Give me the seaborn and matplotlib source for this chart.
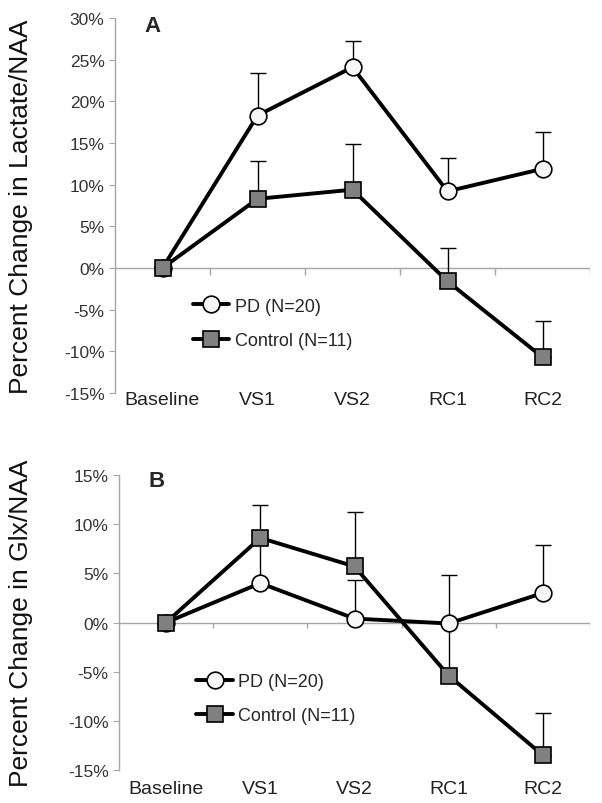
import matplotlib
matplotlib.use("Agg")
import matplotlib.pyplot as plt
import seaborn as sns
import numpy as np
from matplotlib.ticker import PercentFormatter

# time points
stages = ["Baseline", "VS1", "VS2", "RC1", "RC2"]

# panel A: lactate/NAA (% change), upper error only
lac_pd = [0, 18.3, 24.1, 9.2, 11.9]
lac_pd_err = [0, 5.1, 3.2, 4.0, 4.4]
lac_ctl = [0, 8.3, 9.4, -1.6, -10.7]
lac_ctl_err = [0, 4.6, 5.5, 4.0, 4.3]

# panel B: Glx/NAA (% change)
glx_pd = [0, 4.0, 0.4, -0.1, 3.0]
glx_pd_err = [0, 4.0, 3.9, 4.9, 4.9]
glx_ctl = [0, 8.6, 5.7, -5.4, -13.5]
glx_ctl_err = [0, 3.3, 5.5, 5.0, 4.3]

pd_label = "PD (N=20)"
ctl_label = "Control (N=11)"

sns.set_style("white")
plt.rcParams["font.family"] = ["Liberation Sans", "DejaVu Sans"]
plt.rcParams["axes.unicode_minus"] = False

GRAY = "#a6a6a6"

fig = plt.figure(figsize=(6.02, 8.04), dpi=100)
axA = fig.add_axes([115 / 602, 1 - 394 / 804, 475 / 602, 375 / 804])
axB = fig.add_axes([119 / 602, 1 - 771 / 804, 471 / 602, 295 / 804])


def panel(ax, pd_vals, pd_err, ctl_vals, ctl_err, ylim, yticks, ylabel, tick_len, xpad):
    zeros = np.zeros(len(stages))
    # one-sided error bars (drawn under the markers)
    ax.errorbar(stages, pd_vals, yerr=[zeros, pd_err], fmt="none", ecolor="black",
                elinewidth=1.0, capsize=6, capthick=1.0, zorder=2)
    ax.errorbar(stages, ctl_vals, yerr=[zeros, ctl_err], fmt="none", ecolor="black",
                elinewidth=1.0, capsize=6, capthick=1.0, zorder=2)
    sns.lineplot(x=stages, y=pd_vals, ax=ax, color="black", linewidth=2.8,
                 marker="o", markersize=12, markerfacecolor="#f7f7f7",
                 markeredgecolor="black", markeredgewidth=1.2, label=pd_label, zorder=4)
    sns.lineplot(x=stages, y=ctl_vals, ax=ax, color="black", linewidth=2.8,
                 marker="s", markersize=11.5, markerfacecolor="#808080",
                 markeredgecolor="black", markeredgewidth=1.2, label=ctl_label, zorder=5)

    ax.set_xlim(-0.5, len(stages) - 0.5)
    ax.set_ylim(*ylim)
    ax.set_yticks(yticks)
    ax.yaxis.set_major_formatter(PercentFormatter(decimals=0))

    # excel-like category axis on the zero line
    ax.axhline(0, color=GRAY, linewidth=1.0, zorder=1)
    ax.vlines(np.arange(len(stages)) + 0.5, -tick_len, 0, color=GRAY, linewidth=1.0, zorder=1)

    for s in ["top", "right", "bottom"]:
        ax.spines[s].set_visible(False)
    ax.spines["left"].set_color(GRAY)
    ax.spines["left"].set_linewidth(1.0)
    ax.tick_params(axis="y", length=4, color=GRAY, labelsize=12.5, labelcolor="#333333", left=True)
    ax.tick_params(axis="x", length=0, labelsize=14, labelcolor="#222222", pad=xpad)
    ax.set_xlabel("")
    ax.set_ylabel(ylabel, fontsize=19, color="#111111")
    ax.legend(loc="center left", frameon=False, fontsize=13, handlelength=2.0,
              labelspacing=0.95, handletextpad=0.3)


panel(axA, lac_pd, lac_pd_err, lac_ctl, lac_ctl_err, (-15, 30), np.arange(-15, 31, 5),
      "Percent Change in Lactate/NAA", 0.8, -1.5)
axA.legend_.set_bbox_to_anchor((0.13, 0.186))
axA.yaxis.set_label_coords(-0.172, 0.5)
axA.text(0.078, 1.008, "A", transform=axA.transAxes, fontsize=16,
         fontweight="bold", ha="center", va="top")

panel(axB, glx_pd, glx_pd_err, glx_ctl, glx_ctl_err, (-15, 15), np.arange(-15, 16, 5),
      "Percent Change in Glx/NAA", 0.6, 7.5)
axB.legend_.set_bbox_to_anchor((0.13, 0.242))
axB.yaxis.set_label_coords(-0.183, 0.5)
axB.text(0.08, 1.016, "B", transform=axB.transAxes, fontsize=16,
         fontweight="bold", ha="center", va="top")

fig.savefig("out.png", dpi=100)
